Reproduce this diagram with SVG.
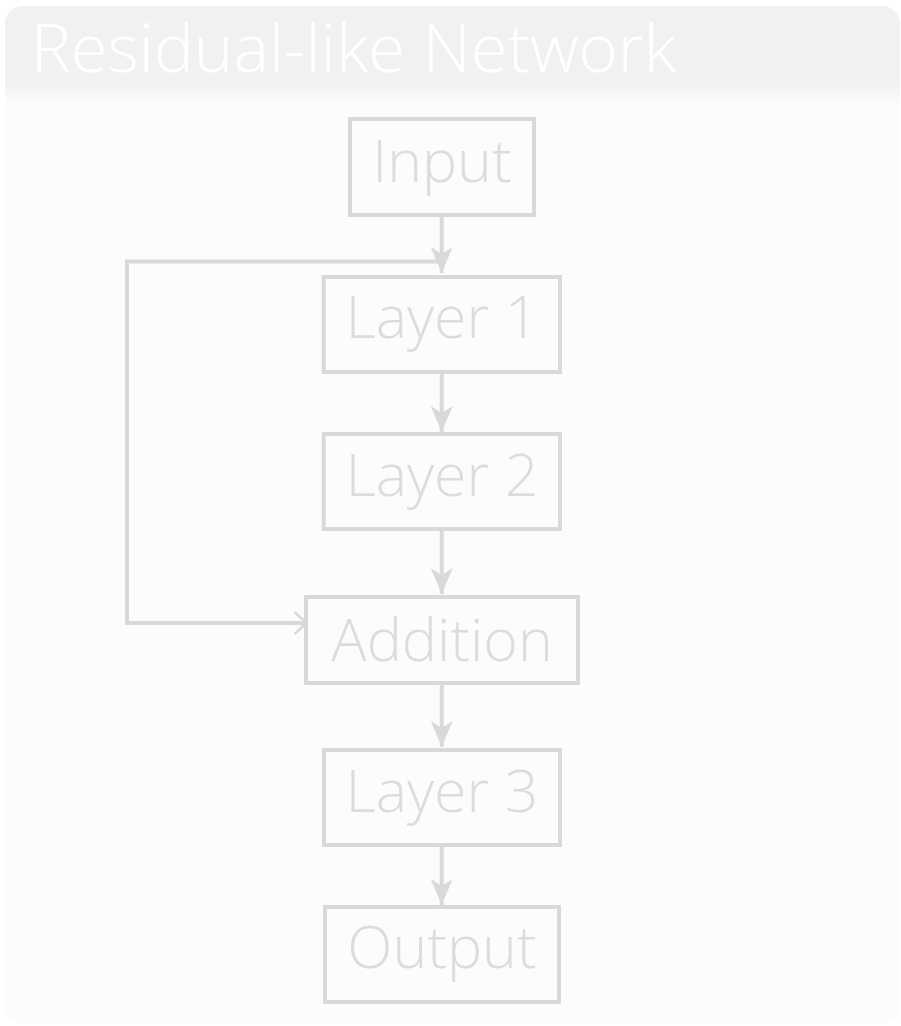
<svg xmlns="http://www.w3.org/2000/svg" width="901" height="1026" viewBox="0 0 901 1026">
  <style>
    .box { fill: none; stroke: #d9d9d9; stroke-width: 4; }
    .label { font-family: "Open Sans", "Noto Sans", "DejaVu Sans", sans-serif; font-weight: 300; font-size: 59px; fill: #dcdcdc; text-anchor: middle; }
    .title { font-family: "Open Sans", "Noto Sans", "DejaVu Sans", sans-serif; font-weight: 300; font-size: 67px; fill: #ffffff; }
    .edge { fill: none; stroke: #d9d9d9; stroke-width: 4; }
  </style>
  <defs>
    <linearGradient id="cardFill" gradientUnits="userSpaceOnUse" x1="0" y1="6" x2="0" y2="1024">
      <stop offset="0" stop-color="#f0f1f1"/>
      <stop offset="0.077" stop-color="#f0f1f1"/>
      <stop offset="0.095" stop-color="#fcfcfc"/>
      <stop offset="1" stop-color="#fcfcfc"/>
    </linearGradient>
    <marker id="head" markerUnits="userSpaceOnUse" markerWidth="30" markerHeight="26" refX="0" refY="0" viewBox="-28 -13 30 26" orient="auto">
      <path d="M0,0 L-26,-11 L-19,0 L-26,11 Z" fill="#d9d9d9"/>
    </marker>
    <marker id="openHead" markerUnits="userSpaceOnUse" markerWidth="20" markerHeight="28" refX="0" refY="0" viewBox="-16 -14 20 28" orient="auto">
      <path d="M-12,-11 L0,0 L-12,11" fill="none" stroke="#d9d9d9" stroke-width="2.4"/>
    </marker>
  </defs>

  <!-- card -->
  <rect x="5" y="6" width="895" height="1018" rx="18" fill="url(#cardFill)"/>
  <text class="title" x="31" y="72">Residual-like Network</text>

  <!-- connectors -->
  <g id="edges">
    <line class="edge" x1="441.7" y1="217" x2="441.7" y2="273" marker-end="url(#head)"/>
    <line class="edge" x1="441.7" y1="374" x2="441.7" y2="432" marker-end="url(#head)"/>
    <line class="edge" x1="441.7" y1="531" x2="441.7" y2="594" marker-end="url(#head)"/>
    <line class="edge" x1="441.7" y1="685" x2="441.7" y2="747" marker-end="url(#head)"/>
    <line class="edge" x1="441.7" y1="847" x2="441.7" y2="905" marker-end="url(#head)"/>
    <path class="edge" d="M439,261.5 H127 V623 H306.5" marker-end="url(#openHead)"/>
  </g>

  <!-- nodes -->
  <g id="input">
    <rect class="box" x="350" y="119" width="184" height="96"/>
    <text class="label" x="442" y="182">Input</text>
  </g>
  <g id="layer1">
    <rect class="box" x="323.7" y="277" width="236.3" height="95"/>
    <text class="label" x="442" y="338">Layer 1</text>
  </g>
  <g id="layer2">
    <rect class="box" x="323.7" y="434" width="236.3" height="95"/>
    <text class="label" x="442" y="496">Layer 2</text>
  </g>
  <g id="addition">
    <rect class="box" x="306" y="597" width="272" height="86"/>
    <text class="label" x="442" y="661">Addition</text>
  </g>
  <g id="layer3">
    <rect class="box" x="324" y="750" width="236" height="95"/>
    <text class="label" x="442" y="812">Layer 3</text>
  </g>
  <g id="output">
    <rect class="box" x="325" y="907" width="234" height="95"/>
    <text class="label" x="442" y="968">Output</text>
  </g>
</svg>
